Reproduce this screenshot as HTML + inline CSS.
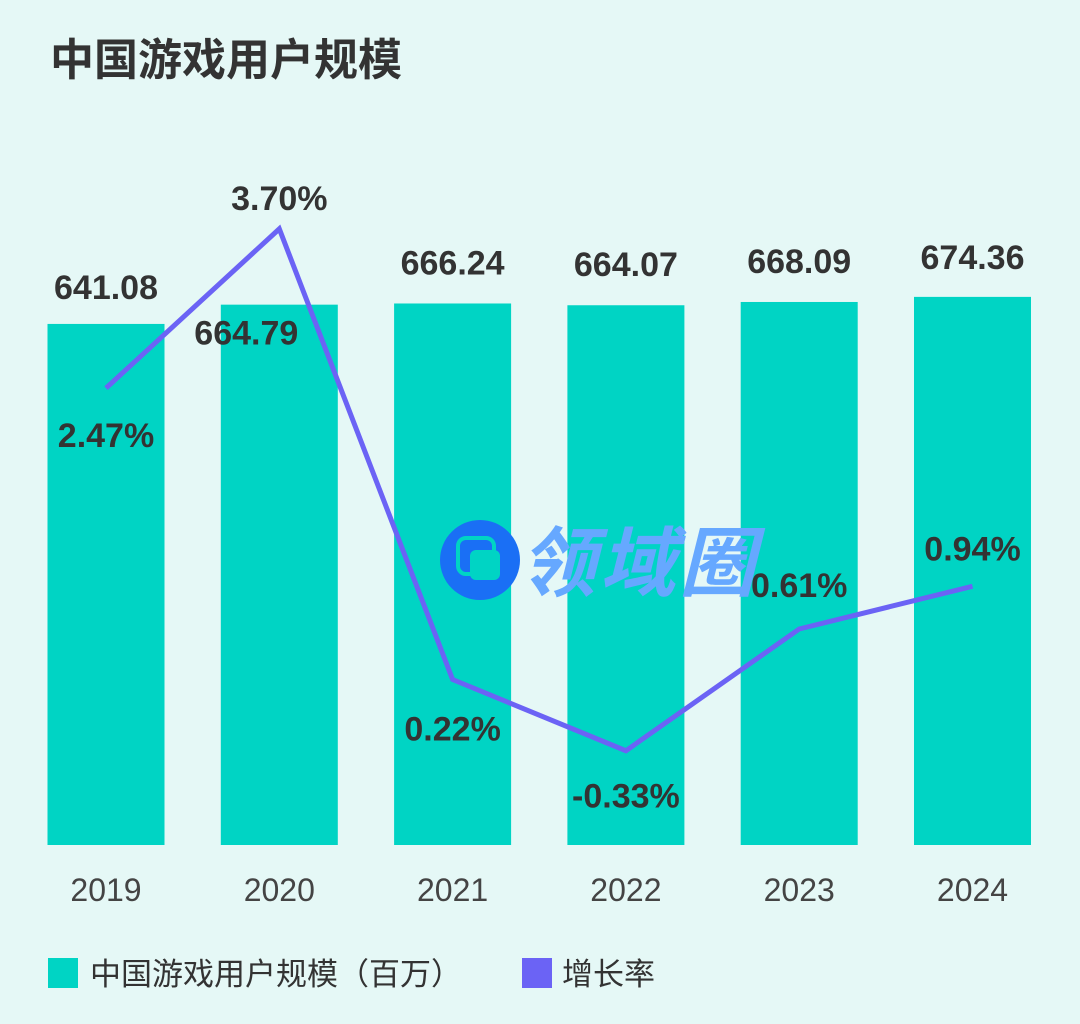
<!DOCTYPE html>
<html><head><meta charset="utf-8"><style>
body{margin:0;background:#e5f8f6;}
svg{display:block;font-family:"Liberation Sans","Noto Sans CJK SC",sans-serif;}
</style></head><body>
<svg id="c" width="1080" height="1024">
<rect width="1080" height="1024" fill="#e5f8f6"/>
<text x="50" y="75" font-size="44" font-weight="bold" fill="#333">中国游戏用户规模</text>
<g id="bars"></g><g id="line"></g><g id="labels"></g>
<g>
<circle cx="480" cy="560" r="40" fill="#1a6ff5"/>
<rect x="458" y="538" width="36" height="36" rx="8" fill="none" stroke="#00d4c4" stroke-width="4"/>
<rect x="470" y="550" width="30" height="30" rx="6" fill="#00d4c4"/>
<text x="520" y="590" font-size="76" font-weight="bold" font-style="italic" fill="#66a8ff" textLength="235">领域圈</text>
</g>
<g id="legend">
<rect x="48" y="958" width="30" height="30" fill="#00d4c4"/>
<text x="90" y="985" font-size="31" fill="#333">中国游戏用户规模（百万）</text>
<rect x="522" y="958" width="30" height="30" fill="#6b63f5"/>
<text x="562" y="985" font-size="31" fill="#333">增长率</text>
</g>
</svg>
<script>
const categories=["2019","2020","2021","2022","2023","2024"];
const users=[641.08,664.79,666.24,664.07,668.09,674.36];
const growth=[2.47,3.70,0.22,-0.33,0.61,0.94];
const userLabels=["641.08","664.79","666.24","664.07","668.09","674.36"];
const growthLabels=["2.47%","3.70%","0.22%","-0.33%","0.61%","0.94%"];
const NS="http://www.w3.org/2000/svg";
const base=845;
function xc(i){return 106+i*173.3;}
function yb(v){return base-v*0.8128;}
function yl(v){return 708-v*129.5;}
function mk(t,a,p){const e=document.createElementNS(NS,t);for(const k in a)e.setAttribute(k,a[k]);p.appendChild(e);return e;}
const bg=document.getElementById('bars'),lg=document.getElementById('line'),lb=document.getElementById('labels');
const barDy=[-37,28,-41,-41,-41,-40], barDx=[0,-33,0,0,0,0];
const pctDy=[47,-31,49,45,-44,-38];
users.forEach((v,i)=>{
 const r=mk('rect',{x:xc(i)-58.5,y:yb(v),width:117,height:base-yb(v),fill:'#00d4c4'},bg);
 
 
 const t=mk('text',{x:xc(i)+barDx[i],y:yb(v)+barDy[i]+12,'text-anchor':'middle','font-size':34,'font-weight':'bold',fill:'#333'},lb);
 t.textContent=userLabels[i];
 
 
 const x=mk('text',{x:xc(i),y:901,'text-anchor':'middle','font-size':32,fill:'#444'},lb);
 x.textContent=categories[i];
 
 
});
const pl=mk('polyline',{points:growth.map((v,i)=>xc(i)+','+yl(v)).join(' '),fill:'none',stroke:'#6b63f5','stroke-width':5},lg);


growth.forEach((v,i)=>{
 const t=mk('text',{x:xc(i),y:yl(v)+pctDy[i]+12,'text-anchor':'middle','font-size':34,'font-weight':'bold',fill:'#333'},lb);
 t.textContent=growthLabels[i];
 
 
});
</script>
</body></html>
